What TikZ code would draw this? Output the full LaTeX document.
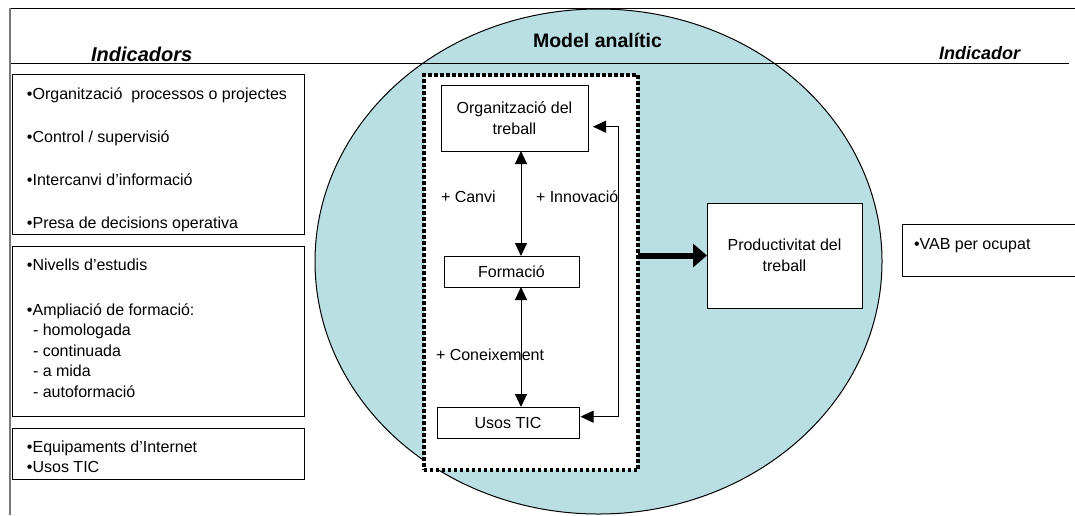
\documentclass[tikz,border=0pt]{standalone}
\usepackage{fontspec}
\setmainfont{Liberation Sans}
\usetikzlibrary{arrows.meta}
\definecolor{ellfill}{RGB}{185,223,227}
\definecolor{leftgray}{RGB}{120,120,120}
\begin{document}
\begin{tikzpicture}[x=1pt,y=-1pt,
  every node/.style={outer sep=0pt},
  box/.style={draw, line width=1pt, inner sep=0pt, fill=white},
  txt/.style={font=\fontsize{16}{20.5}\selectfont, inner sep=0pt, anchor=north west, align=left},
  lbl/.style={font=\fontsize{16}{20}\selectfont, inner sep=0pt, anchor=base west},
  inbox/.style={box, font=\fontsize{16}{21.5}\selectfont, align=center},
  arr/.style={line width=1pt, {Triangle[length=13pt,width=12pt]}-{Triangle[length=13pt,width=12pt]}},
  thickarr/.style={line width=6pt, -{Triangle[length=14pt,width=23pt]}},
  hdr/.style={inner sep=0pt, anchor=base}
]
\useasboundingbox (0,0) rectangle (1075,515);
\clip (0,0) rectangle (1075,515);

% background ellipse
\draw[fill=ellfill, line width=1pt] (598.5,261.5) ellipse [x radius=283.5pt, y radius=252.5pt];

% frame lines
\draw[line width=1pt] (10,8) -- (1075,8);
\draw[line width=1pt] (10,63) -- (1069,63);
\draw[leftgray, line width=2pt] (10,7.5) -- (10,515);

% headers
\node[hdr, font=\fontsize{20}{24}\selectfont\bfseries\itshape] (hl) at (141.7,61.5) {Indicadors};
\node[hdr, font=\fontsize{19.5}{24}\selectfont\bfseries] (hm) at (597.5,47.7) {Model analític};
\node[hdr, font=\fontsize{18}{22}\selectfont\bfseries\itshape] (hr) at (979.7,59) {Indicador};

% left indicator boxes
\node[box, minimum width=292pt, minimum height=160pt] (b1) at (158,154) {};
\node[txt, font=\fontsize{16}{43}\selectfont] (t1) at (27,83.3) {\rule{0pt}{16pt}•Organització~ processos o projectes\\•Control / supervisió\\•Intercanvi d’informació\\•Presa de decisions operativa};

\node[box, minimum width=292pt, minimum height=170pt] (b2) at (158,331) {};
\node[txt] (t2) at (27,254) {\rule{0pt}{16pt}•Nivells d’estudis\\[24.5pt]•Ampliació de formació:\\\hspace*{6pt}- homologada\\\hspace*{6pt}- continuada\\\hspace*{6pt}- a mida\\\hspace*{6pt}- autoformació};

\node[box, minimum width=292pt, minimum height=51pt] (b3) at (158,453.5) {};
\node[txt] (t3) at (27,436) {\rule{0pt}{16pt}•Equipaments d’Internet\\•Usos TIC};

% dotted model box
\node[draw, fill=white, line width=4pt, dash pattern=on 3.5pt off 2.5pt, inner sep=0pt,
      minimum width=214.6pt, minimum height=395pt] (model) at (531,272.8) {};

% inner boxes
\node[inbox, minimum width=147pt, minimum height=66pt] (org) at (514.5,118) {Organització del\\treball};
\node[inbox, minimum width=135pt, minimum height=31pt] (form) at (511.5,271.5) {Formació};
\node[inbox, minimum width=142pt, minimum height=31pt] (usos) at (508,422.5) {Usos TIC};

% productivity box and indicator
\node[inbox, minimum width=155pt, minimum height=105pt] (prod) at (784.5,255.5) {Productivitat del\\treball};
\node[box, minimum width=183pt, minimum height=52pt] (vab) at (993.5,250) {};
\node[txt] (tv) at (914,233) {\rule{0pt}{16pt}•VAB per ocupat};

% arrows
\coordinate (ax) at (521,0);
\draw[arr] (org.south -| ax) -- (form.north -| ax);
\draw[arr] (form.south -| ax) -- (usos.north -| ax);

\coordinate (fbtop) at (618.3,126.7);
\coordinate (fbbot) at (618.3,416.7);
\draw[arr, shorten <=5pt, shorten >=1.5pt] (org.east |- fbtop) -- (fbtop) -- (fbbot) -- (usos.east |- fbbot);

\draw[thickarr] (model.east |- prod.west) -- (prod.west);

% labels
\node[lbl] (lc) at (441,202.7) {+ Canvi};
\node[lbl] (li) at (536,202.7) {+ Innovació};
\node[lbl] (lk) at (436,360.7) {+ Coneixement};
\end{tikzpicture}
\end{document}
